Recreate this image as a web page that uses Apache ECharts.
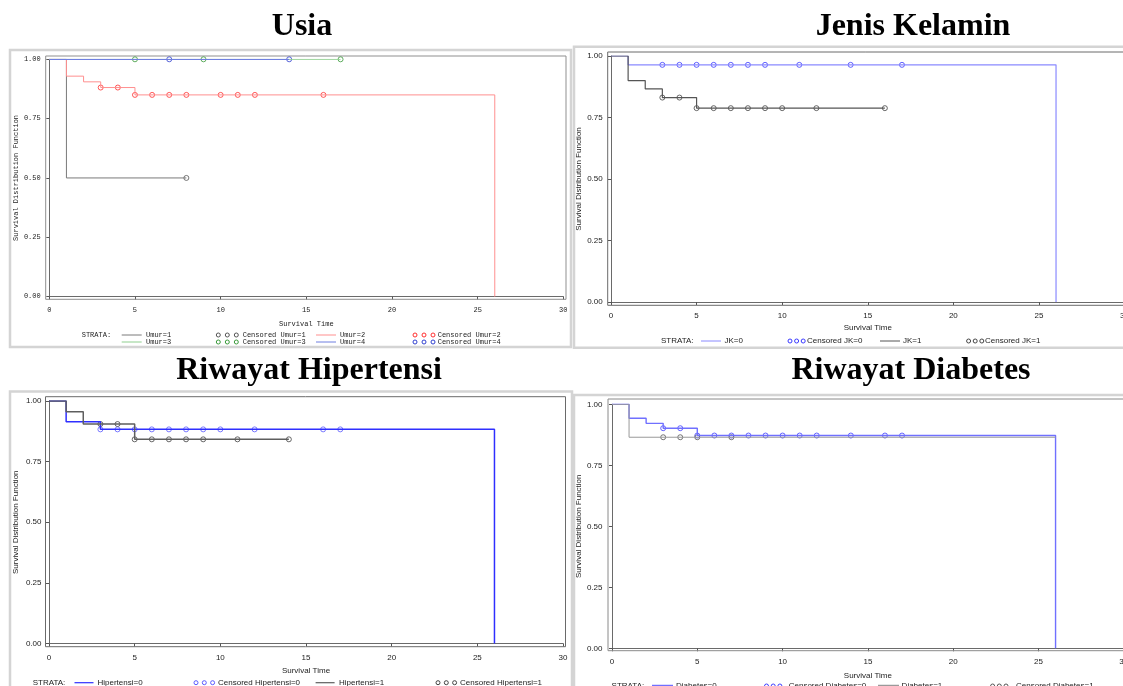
<!DOCTYPE html>
<html>
<head>
<meta charset="utf-8">
<script src="https://cdn.jsdelivr.net/npm/echarts@6/dist/echarts.min.js"></script>
<style>
  html, body { margin: 0; padding: 0; background: #fff; overflow: hidden; }
  #chart { width: 1123px; height: 686px; }
</style>
</head>
<body>
<div id="chart"></div>
<script>
// Axis ranges shared by the four Kaplan-Meier plots
const timeTicks = [0, 5, 10, 15, 20, 25, 30];
const survTicks = [0, 0.25, 0.5, 0.75, 1];

// Usia (age group) strata: step times, survival estimates, censored times
const umur1Time = [0, 1, 8];
const umur1Surv = [1, 0.5, 0.5];
const umur1Cens = [8];
const umur2Time = [0, 1, 2, 3, 5, 26];
const umur2Surv = [1, 0.929, 0.905, 0.881, 0.85, 0];
const umur2Cens = [3, 4, 5, 6, 7, 8, 10, 11, 12, 16];
const umur3Time = [0, 17];
const umur3Surv = [1, 1];
const umur3Cens = [5, 9, 17];
const umur4Time = [0, 14];
const umur4Surv = [1, 1];
const umur4Cens = [7, 14];

// Jenis Kelamin (sex) strata
const jk0Time = [0, 1, 26];
const jk0Surv = [1, 0.964, 0];
const jk0Cens = [3, 4, 5, 6, 7, 8, 9, 11, 14, 17];
const jk1Time = [0, 1, 2, 3, 5, 16];
const jk1Surv = [1, 0.9, 0.866, 0.831, 0.788, 0.788];
const jk1Cens = [3, 4, 5, 6, 7, 8, 9, 10, 12, 16];

// Riwayat Hipertensi strata
const ht0Time = [0, 1, 3, 26];
const ht0Surv = [1, 0.914, 0.883, 0];
const ht0Cens = [3, 4, 5, 6, 7, 8, 9, 10, 12, 16, 17];
const ht1Time = [0, 1, 2, 5, 14];
const ht1Surv = [1, 0.956, 0.905, 0.842, 0.842];
const ht1Cens = [3, 4, 5, 6, 7, 8, 9, 11, 14];

// Riwayat Diabetes strata
const db0Time = [0, 1, 2, 3, 5, 26];
const db0Surv = [1, 0.943, 0.922, 0.902, 0.872, 0];
const db0Cens = [3, 4, 5, 6, 7, 8, 9, 10, 11, 12, 14, 16, 17];
const db1Time = [0, 1, 26];
const db1Surv = [1, 0.865, 0.865];
const db1Cens = [3, 4, 5, 7];

// Panel titles and strata labels
const panelTitles = ['Usia', 'Jenis Kelamin', 'Riwayat Hipertensi', 'Riwayat Diabetes'];
const usiaLabels = ['Umur=1', 'Umur=2', 'Umur=3', 'Umur=4'];
const jkLabels = ['JK=0', 'JK=1'];
const htLabels = ['Hipertensi=0', 'Hipertensi=1'];
const dbLabels = ['Diabetes=0', 'Diabetes=1'];

const yTitle = 'Survival Distribution Function';
const xTitle = 'Survival Time';

// Step-function lookup: survival estimate in effect at time t
function survAt(times, survs, t) {
  let v = survs[0];
  for (let i = 0; i < times.length; i++) if (times[i] <= t) v = survs[i];
  return v;
}

const MONO = 'Liberation Mono';
const SANS = 'Liberation Sans';

// Layout and styling of each panel
const panels = [
  {
    titleX: 302, titleY: 27,
    frame: [10, 50, 561, 297],
    grid: { left: 49.3, top: 59.3, width: 514, height: 237.3 },
    box: [45.7, 56, 520.3, 243.3], boxColor: '#8f8f8f',
    xOff: 2.7, yOff: 3.6, xNameGap: 24.7, yNameGap: 29.7, xLabelMargin: 7, yLabelMargin: 5,
    family: MONO, size: 7,
    curves: [
      { label: usiaLabels[0], time: umur1Time, surv: umur1Surv, cens: umur1Cens, line: '#7a7a7a', mark: '#555555', width: 1 },
      { label: usiaLabels[1], time: umur2Time, surv: umur2Surv, cens: umur2Cens, line: '#ff8f8f', mark: '#ff3030', width: 1 },
      { label: usiaLabels[2], time: umur3Time, surv: umur3Surv, cens: umur3Cens, line: '#8fcf8f', mark: '#3a9a3a', width: 1 },
      { label: usiaLabels[3], time: umur4Time, surv: umur4Surv, cens: umur4Cens, line: '#6f7fe0', mark: '#3040d0', width: 1.2 }
    ],
    strata: [81.7, 335], circR: 2, circGap: 9, legLen: 20, legWidth: 1,
    legend: [
      { c: 0, y: 335, lineX: 121.7, textX: 146, circX: 218.3, censX: 242.7 },
      { c: 2, y: 342, lineX: 121.7, textX: 146, circX: 218.3, censX: 242.7 },
      { c: 1, y: 335, lineX: 316, textX: 340, circX: 415, censX: 437.7 },
      { c: 3, y: 342, lineX: 316, textX: 340, circX: 415, censX: 437.7 }
    ]
  },
  {
    titleX: 913, titleY: 27,
    frame: [574, 46.7, 570, 301],
    grid: { left: 611, top: 56, width: 513.5, height: 246 },
    box: [607.7, 52, 530, 253.3], boxColor: '#6a6a6a',
    xOff: 3.3, yOff: 3.3, xNameGap: 22.7, yNameGap: 28.7, xLabelMargin: 6.5, yLabelMargin: 5,
    family: SANS, size: 8,
    curves: [
      { label: jkLabels[0], time: jk0Time, surv: jk0Surv, cens: jk0Cens, line: '#8a8aff', mark: '#3a3aff', width: 1.2 },
      { label: jkLabels[1], time: jk1Time, surv: jk1Surv, cens: jk1Cens, line: '#555555', mark: '#444444', width: 1.2 }
    ],
    strata: [661, 341], circR: 2, circGap: 6.6, legLen: 20, legWidth: 1,
    legend: [
      { c: 0, y: 341, lineX: 701, textX: 724.5, circX: 790, censX: 807 },
      { c: 1, y: 341, lineX: 880, textX: 903, circX: 968.6, censX: 985 }
    ]
  },
  {
    titleX: 309, titleY: 371,
    frame: [10, 391.5, 562, 310],
    grid: { left: 49, top: 401, width: 514, height: 242.5 },
    box: [45.5, 396.7, 520, 250], boxColor: '#6a6a6a',
    xOff: 3.2, yOff: 3.5, xNameGap: 24.3, yNameGap: 29.5, xLabelMargin: 7, yLabelMargin: 4,
    family: SANS, size: 8,
    curves: [
      { label: htLabels[0], time: ht0Time, surv: ht0Surv, cens: ht0Cens, line: '#2f2fff', mark: '#5b5bff', width: 1.5 },
      { label: htLabels[1], time: ht1Time, surv: ht1Surv, cens: ht1Cens, line: '#5e5e5e', mark: '#444444', width: 1.5 }
    ],
    strata: [32.7, 682.7], circR: 2, circGap: 8.3, legLen: 19, legWidth: 1.2,
    legend: [
      { c: 0, y: 682.7, lineX: 74.5, textX: 97.5, circX: 196, censX: 218 },
      { c: 1, y: 682.7, lineX: 315.6, textX: 339, circX: 438, censX: 460 }
    ]
  },
  {
    titleX: 911, titleY: 371,
    frame: [574, 395, 570, 310],
    grid: { left: 612, top: 404.3, width: 511.8, height: 244 },
    box: [608, 399, 530, 251.7], boxColor: '#8a8a8a',
    xOff: 2.7, yOff: 4, xNameGap: 25, yNameGap: 29.7, xLabelMargin: 7, yLabelMargin: 5.5,
    family: SANS, size: 8,
    curves: [
      { label: dbLabels[0], time: db0Time, surv: db0Surv, cens: db0Cens, line: '#7070ff', mark: '#3f3fff', width: 1.4 },
      { label: dbLabels[1], time: db1Time, surv: db1Surv, cens: db1Cens, line: '#9a9a9a', mark: '#555555', width: 1 }
    ],
    strata: [611.6, 686], circR: 2, circGap: 6.7, legLen: 21, legWidth: 2.5,
    legend: [
      { c: 0, y: 686, lineX: 652, textX: 676, circX: 766.5, censX: 788.7 },
      { c: 1, y: 686, lineX: 878, textX: 901.6, circX: 992.6, censX: 1016 }
    ]
  }
];

const grids = [], xAxes = [], yAxes = [], series = [], graphics = [];

panels.forEach((p, i) => {
  const txt = { color: '#222', fontFamily: p.family, fontSize: p.size };
  grids.push(Object.assign({ containLabel: false, outerBoundsMode: 'none' }, p.grid));

  xAxes.push({
    type: 'value', gridIndex: i,
    min: timeTicks[0], max: timeTicks[timeTicks.length - 1], interval: timeTicks[1] - timeTicks[0],
    offset: p.xOff,
    axisLine: { show: true, lineStyle: { color: '#6a6a6a', width: 1 } },
    axisTick: { show: true, length: 3, lineStyle: { color: '#555' } },
    splitLine: { show: false },
    axisLabel: Object.assign({ margin: p.xLabelMargin, formatter: v => String(v) }, txt),
    name: xTitle, nameLocation: 'middle', nameGap: p.xNameGap,
    nameTextStyle: Object.assign({ verticalAlign: 'middle' }, txt)
  });

  yAxes.push({
    type: 'value', gridIndex: i,
    min: survTicks[0], max: survTicks[survTicks.length - 1], interval: survTicks[1] - survTicks[0],
    offset: p.yOff,
    axisLine: { show: true, lineStyle: { color: '#6a6a6a', width: 1 } },
    axisTick: { show: true, length: 3, lineStyle: { color: '#555' } },
    splitLine: { show: false },
    axisLabel: Object.assign({ margin: p.yLabelMargin, formatter: v => v.toFixed(2) }, txt),
    name: yTitle, nameLocation: 'middle', nameGap: p.yNameGap, nameRotate: 90,
    nameTextStyle: Object.assign({ verticalAlign: 'middle', align: 'center' }, txt)
  });

  p.curves.forEach(c => {
    series.push({
      type: 'line', xAxisIndex: i, yAxisIndex: i, step: 'end',
      showSymbol: false, silent: true,
      data: c.time.map((t, k) => [t, c.surv[k]]),
      lineStyle: { color: c.line, width: c.width }
    });
  });
  p.curves.forEach(c => {
    series.push({
      type: 'scatter', xAxisIndex: i, yAxisIndex: i, silent: true,
      symbol: 'circle', symbolSize: 5,
      data: c.cens.map(t => [t, survAt(c.time, c.surv, t)]),
      itemStyle: { color: 'rgba(255,255,255,0)', borderColor: c.mark, borderWidth: 1 }
    });
  });

  // outer panel frame and plot box
  graphics.push({
    type: 'rect', z: 0, silent: true,
    shape: { x: p.frame[0], y: p.frame[1], width: p.frame[2], height: p.frame[3] },
    style: { fill: 'none', stroke: '#d4d4d4', lineWidth: 2.5 }
  });
  graphics.push({
    type: 'rect', z: 1, silent: true,
    shape: { x: p.box[0], y: p.box[1], width: p.box[2], height: p.box[3] },
    style: { fill: 'none', stroke: p.boxColor, lineWidth: 1 }
  });

  // panel title
  graphics.push({
    type: 'text', x: p.titleX, y: p.titleY, silent: true,
    style: {
      text: panelTitles[i], fill: '#000',
      font: 'bold 32px "Liberation Serif", "Times New Roman", serif',
      align: 'center', verticalAlign: 'middle', textAlign: 'center', textVerticalAlign: 'middle'
    }
  });

  // strata legend
  const font = p.size + 'px "' + p.family + '"';
  const addText = (x, y, s, fill) => graphics.push({
    type: 'text', x: x, y: y, silent: true,
    style: { text: s, fill: fill || '#222', font: font, align: 'left', verticalAlign: 'middle', textAlign: 'left', textVerticalAlign: 'middle' }
  });
  addText(p.strata[0], p.strata[1], 'STRATA:');
  p.legend.forEach(e => {
    const c = p.curves[e.c];
    graphics.push({
      type: 'line', silent: true,
      shape: { x1: e.lineX, y1: e.y, x2: e.lineX + p.legLen, y2: e.y },
      style: { stroke: c.line, lineWidth: p.legWidth }
    });
    addText(e.textX, e.y, c.label);
    for (let k = 0; k < 3; k++) {
      graphics.push({
        type: 'circle', silent: true,
        shape: { cx: e.circX + k * p.circGap, cy: e.y, r: p.circR },
        style: { fill: 'none', stroke: c.mark, lineWidth: 1 }
      });
    }
    addText(e.censX, e.y, 'Censored ' + c.label);
  });
});

const chart = echarts.init(document.getElementById('chart'), null, { renderer: 'canvas' });
chart.setOption({
  animation: false,
  backgroundColor: '#ffffff',
  grid: grids,
  xAxis: xAxes,
  yAxis: yAxes,
  series: series,
  graphic: { elements: graphics }
});
</script>
</body>
</html>
